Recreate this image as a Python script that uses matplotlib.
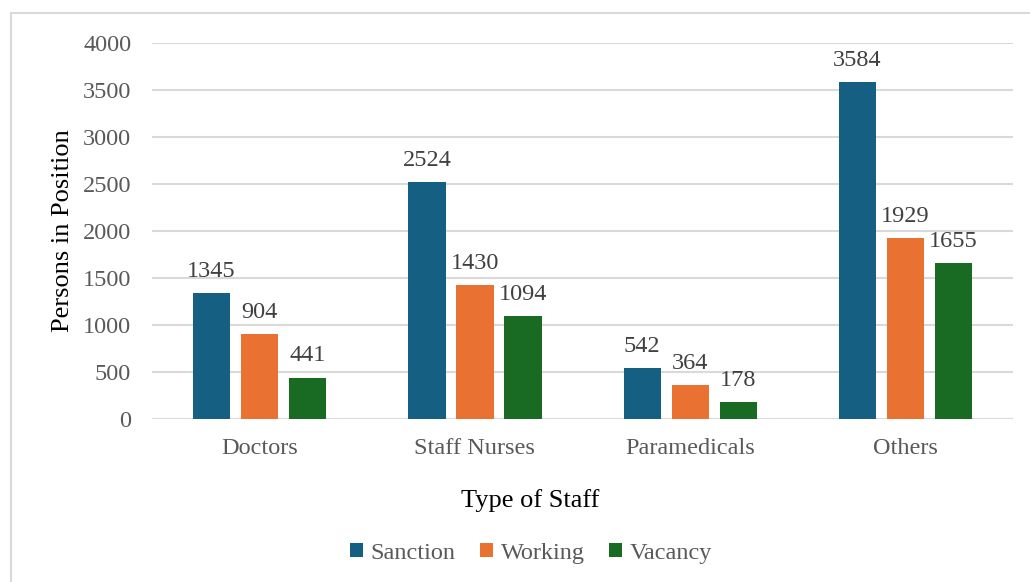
import numpy as np
import matplotlib.pyplot as plt
from matplotlib.patches import Rectangle

# Data
categories = ["Doctors", "Staff Nurses", "Paramedicals", "Others"]
series = ["Sanction", "Working", "Vacancy"]
sanction = [1345, 2524, 542, 3584]
working = [904, 1430, 364, 1929]
vacancy = [441, 1094, 178, 1655]
colors = ["#156082", "#E97132", "#196B24"]

plt.rcParams['font.family'] = ['Liberation Serif', 'DejaVu Serif']

fig = plt.figure(figsize=(10.3, 5.82), dpi=100)
ax = fig.add_axes([0.1476, 0.28, 0.8359, 0.646])

x = np.arange(len(categories))
w = 0.173
step = 0.223
for i, (vals, name) in enumerate(zip([sanction, working, vacancy], series)):
    pos = x + (i - 1) * step
    bars = ax.bar(pos, vals, width=w, color=colors[i], label=name, zorder=3)
    for b, v in zip(bars, vals):
        ax.annotate(str(v), (b.get_x() + b.get_width() / 2, v),
                    xytext=(0, 8), textcoords='offset points',
                    ha='center', va='bottom', fontsize=17.5, color='#404040')

ax.set_xlim(-0.5, 3.5)
ax.set_ylim(0, 4000)
ax.set_yticks(np.arange(0, 4001, 500))
ax.set_xticks(x)
ax.set_xticklabels(categories)
ax.tick_params(axis='both', length=0, labelsize=17.5, labelcolor='#595959')
ax.tick_params(axis='x', pad=14)
ax.tick_params(axis='y', pad=15)
ax.grid(axis='y', color='#D9D9D9', linewidth=1.5, zorder=0)
for s in ax.spines.values():
    s.set_visible(False)

ax.set_ylabel("Persons in Position", fontsize=19, color='black', labelpad=6)
ax.set_xlabel("Type of Staff", fontsize=19, color='black')
ax.xaxis.set_label_coords((530 - 152) / 861, (419 - 500) / 376)
ax.xaxis.label.set_va('center')

leg = ax.legend(loc='center', bbox_to_anchor=((531 - 152) / 861, (419 - 553) / 376),
                ncol=3, frameon=False, fontsize=17.5, handlelength=0.55,
                handleheight=0.55, handletextpad=0.3, columnspacing=1.0,
                labelcolor='#595959')

fig.patches.append(Rectangle((11 / 1030, -0.1), 1.2, 1 - 13 / 582 + 0.1,
                             transform=fig.transFigure, fill=False,
                             edgecolor='#D9D9D9', linewidth=1.5))

fig.savefig("out.png", dpi=100)
